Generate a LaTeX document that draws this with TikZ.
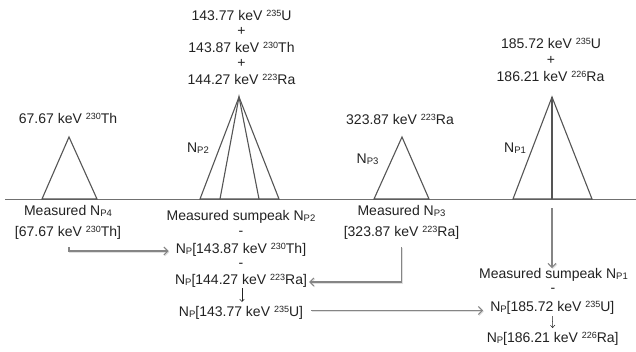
\documentclass[tikz,border=0pt]{standalone}
\usepackage{fontspec}
\setmainfont{Liberation Sans}
\usetikzlibrary{arrows.meta}
\newcommand{\mysup}[1]{\raisebox{4pt}{\fontsize{9}{9}\selectfont #1}}
\newcommand{\mysub}[1]{\raisebox{-1pt}{\fontsize{9.5}{9.5}\selectfont #1}}
\definecolor{txtc}{HTML}{222222}
\definecolor{tric}{HTML}{555555}
\definecolor{axc}{HTML}{707070}
\definecolor{arrc}{HTML}{858585}
\tikzset{
  txt/.style={anchor=base, inner sep=0pt, font=\fontsize{14}{16}\selectfont, text=txtc},
  tri/.style={draw=tric, line width=1.1pt, line join=miter},
  axisline/.style={draw=axc, line width=0.9pt},
  garrow/.style={draw=arrc, line width=1.3pt,
    -{Straight Barb[length=4pt,width=8pt,line width=1.1pt]},
    preaction={draw=black!12, line width=1.3pt, transform canvas={shift={(0.8pt,-0.9pt)}}}},
  sarrow/.style={draw=txtc, line width=0.5pt, -{Straight Barb[length=2.5pt,width=4.5pt,line width=0.5pt]}}
}
\begin{document}
\begin{tikzpicture}[x=1pt,y=-1pt]
\useasboundingbox (0,0) rectangle (636,351);
\fill[white] (0,0) rectangle (636,351);

% axis
\draw[axisline] (5,199) -- (636,199);

% triangles
\draw[tri] (42,199) -- (69,137) -- (97,199) -- cycle;
\draw[tri] (200,199) -- (239,97) -- (279,199) -- cycle;
\draw[tri] (220,199) -- (239,97) -- (259,199);
\draw[tri] (374,199) -- (402,137) -- (429,199) -- cycle;
\draw[tri] (513,199) -- (552,97) -- (592,199) -- cycle;
\draw[tri] (552,97) -- (552,199);
\coordinate (p1base) at (552,199);

% top labels
\node[txt] (t1) at (241.5,20) {143.77 keV \mysup{235}U};
\node[txt] (tp1) at (241.5,35.5) {+};
\node[txt] (t2) at (241.5,52) {143.87 keV \mysup{230}Th};
\node[txt] (tp2) at (241.5,67.5) {+};
\node[txt] (t3) at (241.5,84) {144.27 keV \mysup{223}Ra};

\node[txt] (r1) at (551,48) {185.72 keV \mysup{235}U};
\node[txt] (rp) at (551,64) {+};
\node[txt] (r2) at (550.5,81) {186.21 keV \mysup{226}Ra};

\node[txt] (th) at (68,123.5) {67.67 keV \mysup{230}Th};
\node[txt] (ra) at (400,124) {323.87 keV \mysup{223}Ra};

\node[txt] (np2) at (198,152) {N\mysub{P2}};
\node[txt] (np3) at (367.5,163) {N\mysub{P3}};
\node[txt] (np1) at (515,152) {N\mysub{P1}};

% bottom labels
\node[txt] (m4) at (68,215) {Measured N\mysub{P4}};
\node[txt] (b4) at (68,236) {[67.67 keV \mysup{230}Th]};

\node[txt] (ms2) at (241,220) {Measured sumpeak N\mysub{P2}};
\node[txt] (d1) at (241,235) {-};
\node[txt] (n230) at (241,253) {N\mysub{P}[143.87 keV \mysup{230}Th]};
\node[txt] (d2) at (241,267) {-};
\node[txt] (n223) at (241,284) {N\mysub{P}[144.27 keV \mysup{223}Ra]};
\node[txt] (u235) at (241,316.5) {N\mysub{P}[143.77 keV \mysup{235}U]};

\node[txt] (m3) at (401.5,215) {Measured N\mysub{P3}};
\node[txt] (b3) at (401.5,236) {[323.87 keV \mysup{223}Ra]};

\node[txt] (ms1) at (553.5,278.5) {Measured sumpeak N\mysub{P1}};
\node[txt] (d3) at (553,292) {-};
\node[txt] (r185) at (552.3,311) {N\mysub{P}[185.72 keV \mysup{235}U]};
\node[txt] (r186) at (552.7,342.5) {N\mysub{P}[186.21 keV \mysup{226}Ra]};

% connectors
\draw[garrow] ([xshift=1pt,yshift=-8pt]b4.south) |- ([xshift=-7pt,yshift=2pt]n230.base west);
\draw[garrow] ([yshift=-8pt]b3.south) |- ([xshift=2pt,yshift=2pt]n223.base east);
\draw[garrow] ([xshift=8pt,yshift=6pt]u235.base east) -- ([xshift=-7pt,yshift=6pt]u235.base east -| r185.west);
\draw[garrow] ([yshift=-9pt]p1base) -- (p1base |- ms1.north);
\draw[sarrow] ([xshift=1pt,yshift=-1pt]n223.south) -- ([xshift=1pt,yshift=4pt]u235.north);
\draw[sarrow] ([yshift=-2pt]r185.south) -- ([yshift=4pt]r186.north);
\end{tikzpicture}
\end{document}
